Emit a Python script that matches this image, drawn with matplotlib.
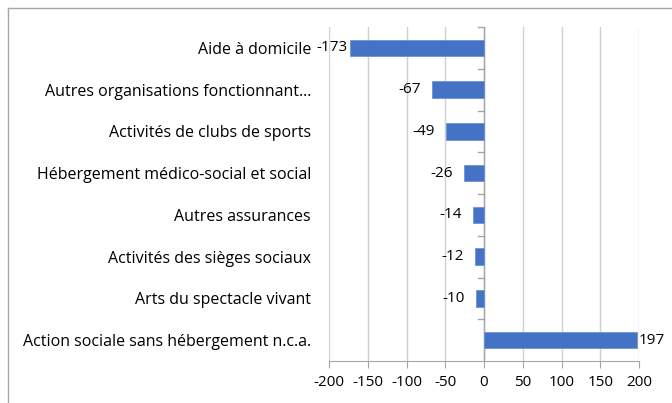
import matplotlib.pyplot as plt
from matplotlib.lines import Line2D

categories = [
    "Aide à domicile",
    "Autres organisations fonctionnant...",
    "Activités de clubs de sports",
    "Hébergement médico-social et social",
    "Autres assurances",
    "Activités des sièges sociaux",
    "Arts du spectacle vivant",
    "Action sociale sans hébergement n.c.a.",
]
values = [-173, -67, -49, -26, -14, -12, -10, 197]
xticks = [-200, -150, -100, -50, 0, 50, 100, 150, 200]

plt.rcParams["font.family"] = ["Open Sans", "DejaVu Sans"]
fs_cat = 11.5
fs_num = 11

fig = plt.figure(figsize=(6.72, 4.03), dpi=100)
ax = fig.add_axes([329 / 672, 1 - 361 / 403, 310 / 672, 334 / 403])

n = len(categories)
ypos = list(range(n))
ax.barh(ypos, values, height=0.4, color="#4472C4", edgecolor="#6f93d6", linewidth=0.6, zorder=3)

# data labels at the bar ends (long negative bar label gets squeezed, like excel)
for y, v in zip(ypos, values):
    if v < 0:
        off = -2 if v < -150 else -8
        ax.annotate(str(v), (v, y), xytext=(off, 0), textcoords="offset points",
                    ha="right", va="center", fontsize=fs_num, zorder=4)
    else:
        ax.annotate(str(v), (v, y), xytext=(1.5, 0), textcoords="offset points",
                    ha="left", va="center", fontsize=fs_num, zorder=4)

ax.set_xlim(-200, 200)
ax.set_ylim(n - 0.5, -0.5)
ax.set_xticks(xticks)
ax.set_xticklabels([str(t) for t in xticks], fontsize=fs_num)
ax.set_yticks(ypos)
ax.set_yticklabels(categories, fontsize=fs_cat)
ax.tick_params(axis="y", length=0, pad=13)
ax.tick_params(axis="x", length=5, color="#a6a6a6", pad=5)

ax.grid(axis="x", color="#d0d0d0", linewidth=1, zorder=0)
for s in ["top", "right", "left"]:
    ax.spines[s].set_visible(False)
ax.spines["bottom"].set_color("#a6a6a6")

# vertical axis at zero with small ticks between categories
ax.axvline(0, color="#a6a6a6", linewidth=1, zorder=2)
for b in range(n):
    ax.plot([-8, 0], [b - 0.5, b - 0.5], color="#a6a6a6", linewidth=1, zorder=2, clip_on=False)

# chart border (only left and top visible in the frame)
fig.add_artist(Line2D([8 / 672, 8 / 672], [0, 1 - 8 / 403], color="#a6a6a6", linewidth=1))
fig.add_artist(Line2D([8 / 672, 1], [1 - 8 / 403, 1 - 8 / 403], color="#a6a6a6", linewidth=1))

fig.savefig("out.png", dpi=100)
